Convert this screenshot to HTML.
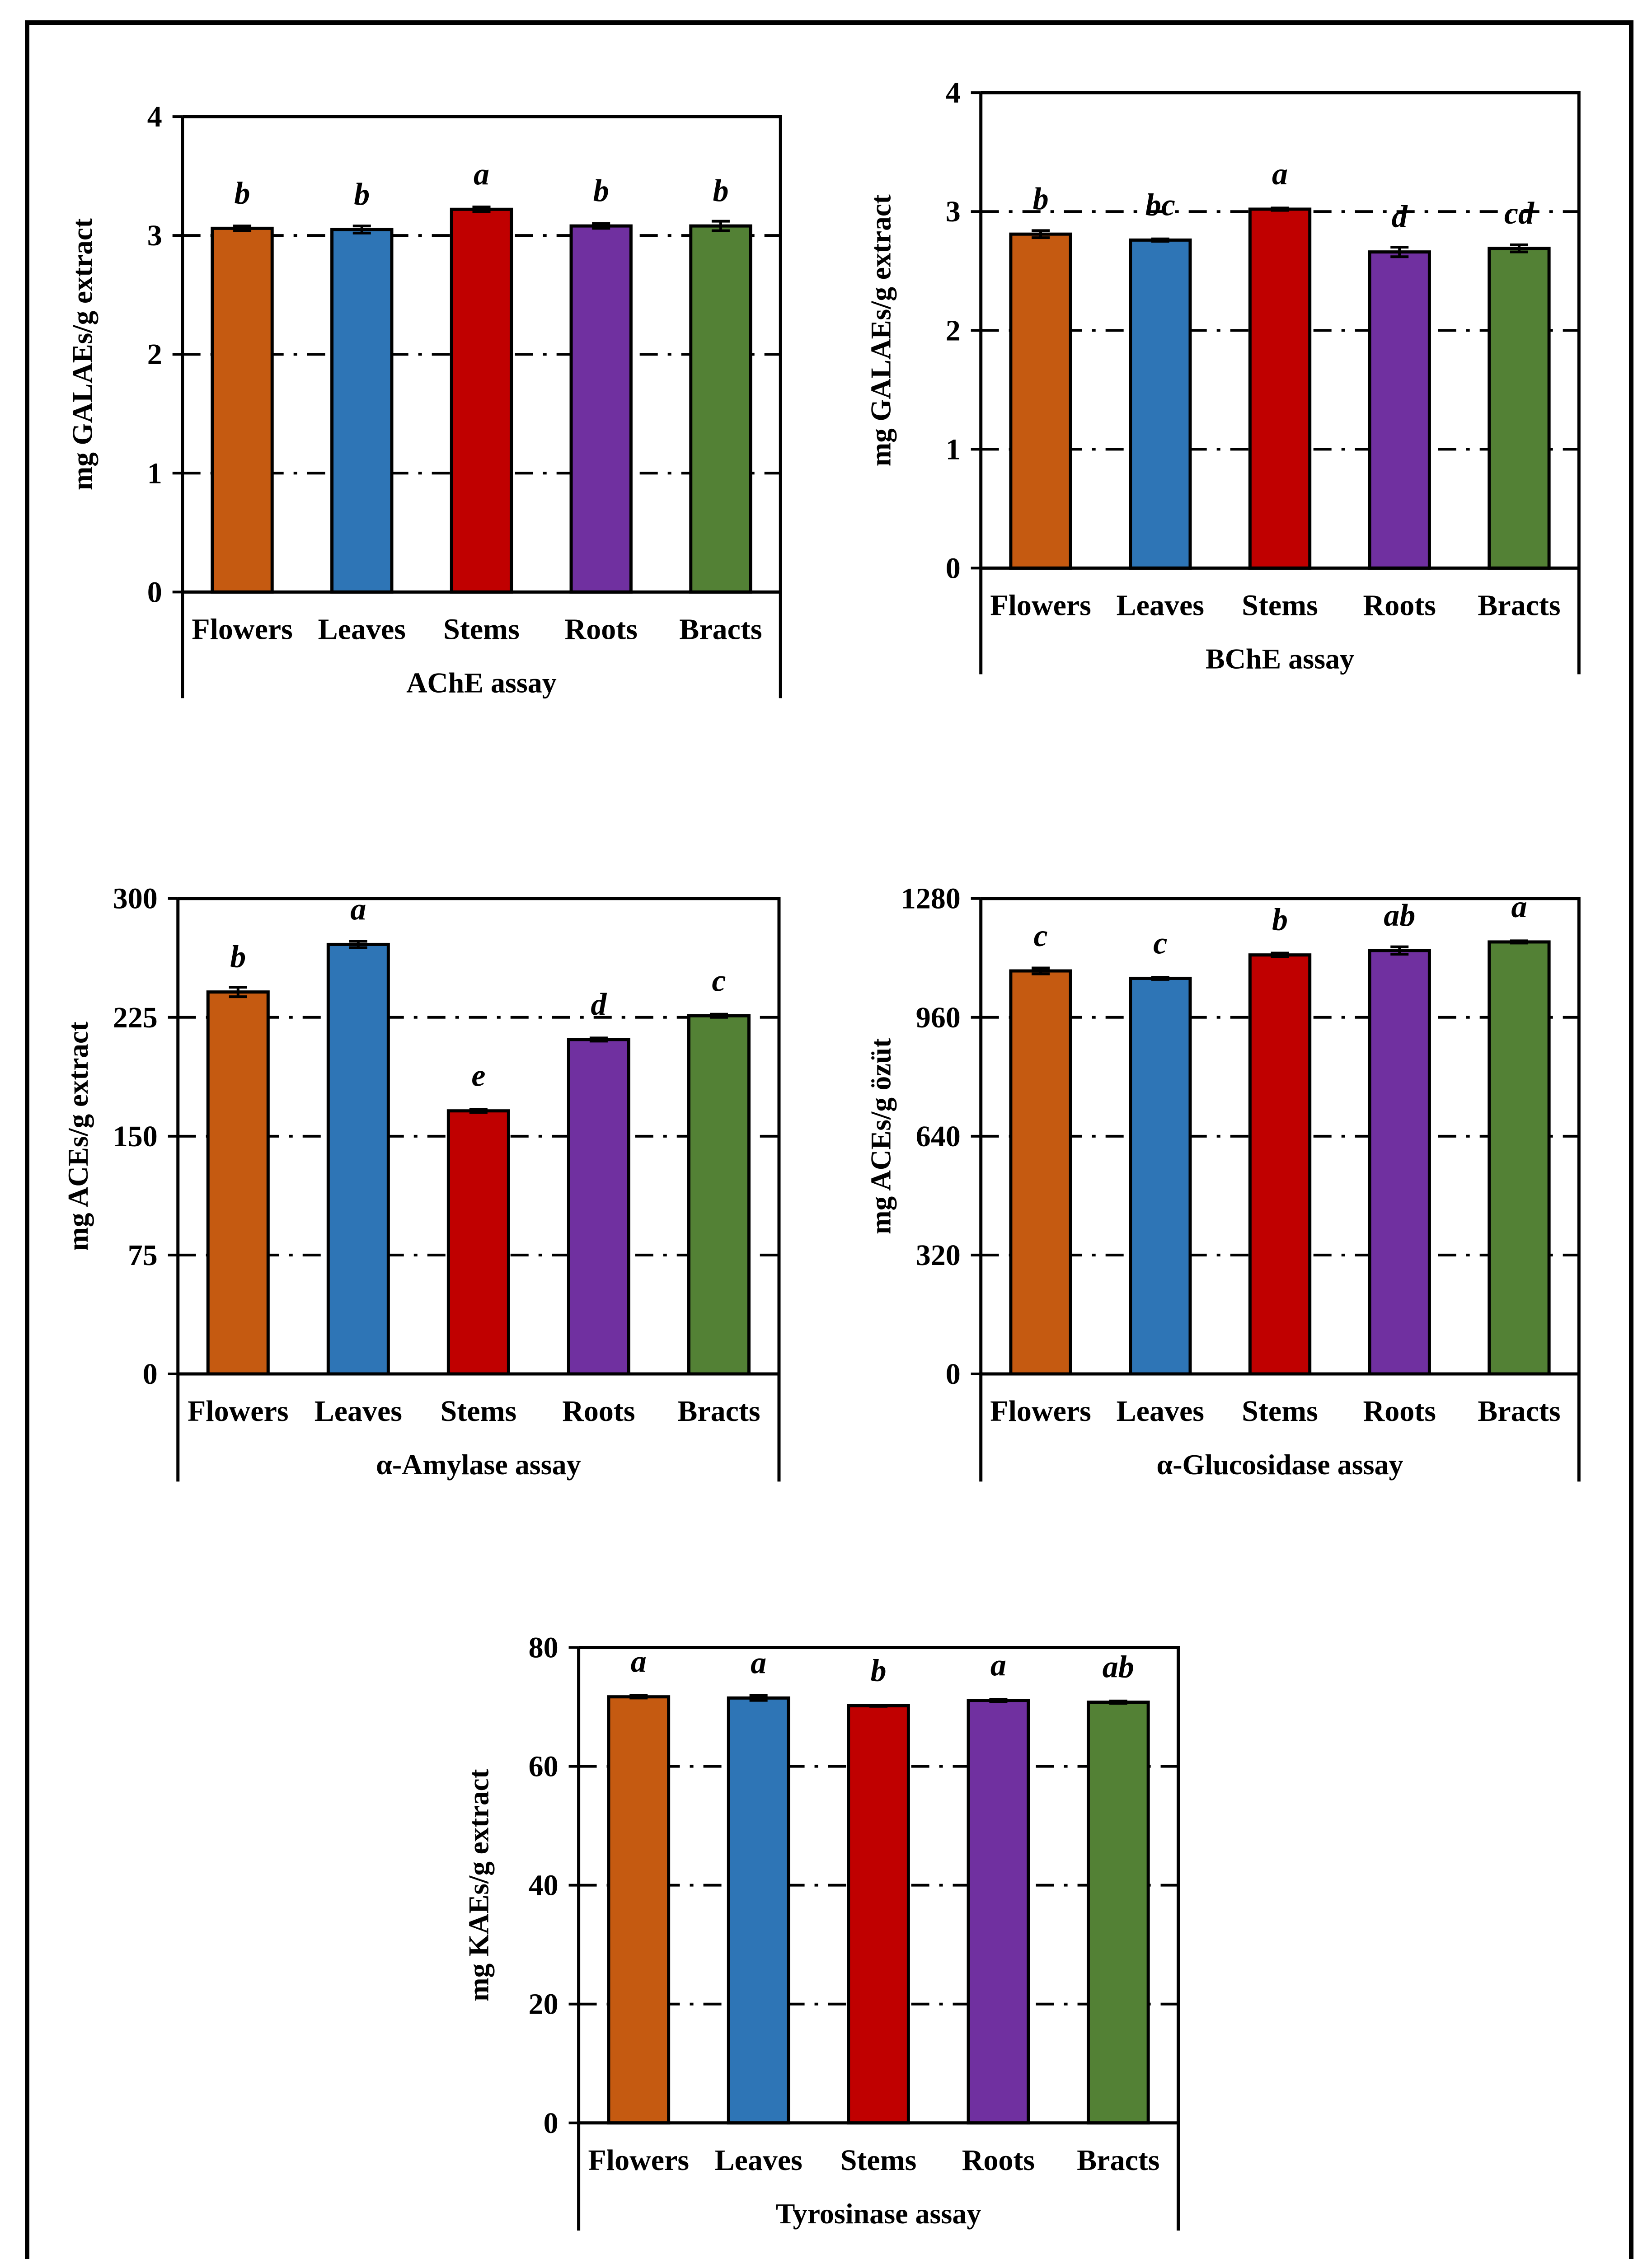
<!DOCTYPE html>
<html><head><meta charset="utf-8"><style>
html,body{margin:0;padding:0;background:#fff;width:3656px;height:5203px;overflow:hidden;}
svg{display:block;}
text{font-family:"Liberation Serif",serif;font-weight:bold;fill:#000;}
</style></head><body>
<svg id="fig" width="3656" height="5203" viewBox="0 0 3656 5203" xmlns="http://www.w3.org/2000/svg">
<rect x="60" y="50" width="3550" height="5105" fill="none" stroke="#000" stroke-width="10"/>
</svg>
<script>
const categories = ["Flowers","Leaves","Stems","Roots","Bracts"];
const colors = ["#C55A11","#2E75B6","#C00000","#7030A0","#538135"];

const acheValues = [3.06, 3.05, 3.22, 3.08, 3.08];
const acheErrors = [0.02, 0.03, 0.02, 0.02, 0.04];
const acheLetters = ["b","b","a","b","b"];
const acheTicks = [0,1,2,3,4];

const bcheValues = [2.81, 2.76, 3.02, 2.66, 2.69];
const bcheErrors = [0.03, 0.01, 0.01, 0.04, 0.03];
const bcheLetters = ["b","bc","a","d","cd"];
const bcheTicks = [0,1,2,3,4];

const amylValues = [241, 271, 166, 211, 226];
const amylErrors = [3, 2, 1, 1, 1];
const amylLetters = ["b","a","e","d","c"];
const amylTicks = [0,75,150,225,300];

const glucValues = [1085, 1065, 1128, 1140, 1163];
const glucErrors = [8, 3, 5, 10, 3];
const glucLetters = ["c","c","b","ab","a"];
const glucTicks = [0,320,640,960,1280];

const tyrValues = [71.7, 71.5, 70.2, 71.1, 70.8];
const tyrErrors = [0.2, 0.4, 0.1, 0.2, 0.2];
const tyrLetters = ["a","a","b","a","ab"];
const tyrTicks = [0,20,40,60,80];

const S = 3.309;
const NS = "http://www.w3.org/2000/svg";
const svg = document.getElementById("fig");

function mk(tag, attrs, parent){
  const e = document.createElementNS(NS, tag);
  for (const k in attrs) e.setAttribute(k, attrs[k]);
  parent.appendChild(e);
  return e;
}

function drawChart(id, L, R, T, B, BB, values, errors, letters, ticks, ytitle, xtitle){
  const g = mk("g", {}, svg);
  
  
  const left = L*S, right = R*S, top = T*S, zero = B*S, boxB = BB*S;
  const ymax = ticks[ticks.length-1];
  const yScale = v => zero - (v/ymax)*(zero-top);
  const band = (right-left)/categories.length;
  const xCenter = i => left + band*(i+0.5);
  const barW = band*0.5;
  ticks.forEach((t,i)=>{
    const y = yScale(t);
    if (i>0 && i<ticks.length-1){
      const gl = mk("line",{x1:left,x2:right,y1:y,y2:y,stroke:"#000","stroke-width":6,"stroke-dasharray":"40 22 8 22"},g);
      
      
    }
    const tk = mk("line",{x1:left-22,x2:left,y1:y,y2:y,stroke:"#000","stroke-width":6},g);
    
    
    const tl = mk("text",{x:left-45,y:y+22,"text-anchor":"end","font-size":66},g);
    tl.textContent = t;
    
    
  });
  values.forEach((v,i)=>{
    const cx = xCenter(i), y = yScale(v);
    const b = mk("rect",{x:cx-barW/2,y:y,width:barW,height:zero-y,fill:colors[i],stroke:"#000","stroke-width":7},g);
    
    
    const e1 = yScale(v+errors[i]), e0 = yScale(v-errors[i]);
    const eb = mk("path",{d:`M${cx},${e1}V${e0}M${cx-20},${e1}H${cx+20}M${cx-20},${e0}H${cx+20}`,stroke:"#000","stroke-width":6,fill:"none"},g);
    
    
    const lt = mk("text",{x:cx,y:y-55,"text-anchor":"middle","font-size":70,"font-style":"italic"},g);
    lt.textContent = letters[i];
    
    
    const cl = mk("text",{x:cx,y:zero+104,"text-anchor":"middle","font-size":66},g);
    cl.textContent = categories[i];
    
    
  });
  const ax = mk("path",{d:`M${left},${top}H${right}V${zero}M${left},${top}V${boxB}M${left},${zero}H${right}M${right},${zero}V${boxB}`,stroke:"#000","stroke-width":7,fill:"none"},g);
  
  
  const xt = mk("text",{x:(left+right)/2,y:zero+222,"text-anchor":"middle","font-size":64},g);
  xt.textContent = xtitle;
  
  
  const yx = left - 200, yy = (top+zero)/2;
  const yt = mk("text",{x:yx,y:yy,"text-anchor":"middle","font-size":63,transform:`rotate(-90 ${yx} ${yy})`},g);
  yt.textContent = ytitle;
  
  
}

drawChart("ache",122,522,78,396,467,acheValues,acheErrors,acheLetters,acheTicks,"mg GALAEs/g extract","AChE assay");
drawChart("bche",656,1056,62,380,451,bcheValues,bcheErrors,bcheLetters,bcheTicks,"mg GALAEs/g extract","BChE assay");
drawChart("amylase",119,521,601,919,991,amylValues,amylErrors,amylLetters,amylTicks,"mg ACEs/g extract","α-Amylase assay");
drawChart("glucosidase",656,1056,601,919,991,glucValues,glucErrors,glucLetters,glucTicks,"mg ACEs/g özüt","α-Glucosidase assay");
drawChart("tyrosinase",387,788,1102,1420,1492,tyrValues,tyrErrors,tyrLetters,tyrTicks,"mg KAEs/g extract","Tyrosinase assay");
</script>
</body></html>
